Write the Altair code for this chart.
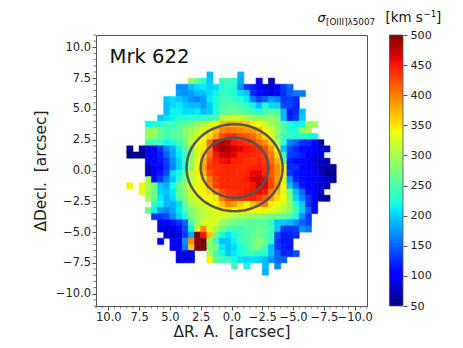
import altair as alt
import numpy as np
import pandas as pd

N = None
row_start = [13,10,8,8,6,6,6,5,3,3,3,3,0,0,3,3,3,3,0,2,3,4,3,4,5,5,6,5,7,8,8,17,22]
r00 = [190,N,N,N,N,185]
r01 = [290,260,230,195,N,240,240,235,180,N,N,100,N,80]
r02 = [170,170,190,205,210,200,205,225,235,225,170,130,120,100,90,80,100,130,150]
r03 = [175,170,175,190,190,205,215,235,230,225,205,195,125,110,100,90,105,125,145,160,160]
r04 = [195,205,195,185,170,165,175,210,225,240,240,235,225,210,160,135,150,175,165,130,135,125]
r05 = [190,205,210,195,190,190,175,195,220,245,250,250,245,235,215,190,225,205,200,135,135,120]
r06 = [190,215,215,205,205,210,190,195,225,255,260,265,260,250,240,225,240,255,250,190,115,125,190]
r07 = [195,205,215,225,225,235,230,230,240,245,300,315,320,315,300,290,290,280,285,275,190,120,130,195]
r08 = [215,225,230,240,240,250,260,270,290,300,320,335,370,380,375,370,365,350,340,320,295,280,250,225,215,215,290,295]
r09 = [290,295,260,245,250,255,285,290,310,330,350,370,395,405,400,395,385,385,370,345,320,290,250,225,225,285,300]
r10 = [290,285,260,240,250,260,280,300,325,335,355,385,425,440,440,425,420,410,385,355,330,280,240,230,225,230,225,215]
r11 = [245,240,235,215,225,240,270,315,335,345,405,470,485,470,450,442,438,428,410,390,360,300,225,165,150,125,125,100,60]
r12 = [60,N,60,85,100,130,165,185,215,260,280,325,350,400,465,488,488,470,460,450,445,440,422,388,330,190,140,125,110,110,100,90,75]
r13 = [55,55,55,95,100,120,150,180,210,240,280,330,360,405,448,465,472,458,445,445,440,436,430,400,355,235,135,130,120,105,95,80]
r14 = [100,100,115,135,170,200,235,285,335,375,425,442,452,458,445,445,440,436,442,435,410,375,265,120,110,110,100,80,75,70]
r15 = [65,100,100,130,165,200,225,280,340,385,432,438,442,445,442,440,440,445,448,442,420,390,345,125,125,100,95,90,70,65,60]
r16 = [70,100,115,140,205,220,265,315,345,375,425,438,442,442,442,442,446,458,462,445,420,390,345,130,115,105,105,100,75,55,55]
r17 = [300,110,130,165,195,230,270,305,330,355,400,432,442,442,442,442,450,465,475,458,425,385,330,170,120,110,105,100,85,80,60]
r18 = [345,N,340,300,270,195,185,220,260,295,325,335,350,392,428,442,442,442,442,442,450,475,465,428,390,340,190,150,115,105,95,85,70]
r19 = [335,300,265,200,195,210,260,285,320,335,345,355,392,422,435,438,442,446,450,458,448,400,370,330,270,190,155,110,100,80]
r20 = [295,260,210,185,205,250,280,320,320,335,335,350,402,432,440,440,442,446,435,415,385,355,340,280,200,165,130,95,70,55]
r21 = [235,215,190,185,205,260,300,315,325,330,345,365,395,385,360,340,365,385,400,345,340,320,290,225,195,130,95]
r22 = [265,215,175,165,180,210,250,280,300,310,320,335,345,350,340,350,350,345,340,345,330,320,305,285,245,200,150,100]
r23 = [130,130,140,170,200,225,275,295,310,320,325,320,310,300,295,290,285,280,275,275,270,260,250,220,170,130]
r24 = [100,100,115,125,150,240,290,320,325,325,290,280,270,265,260,260,255,255,230,195,195,190,170,150,135]
r25 = [90,85,90,110,140,215,320,390,330,300,270,250,240,240,250,255,265,260,245,195,130,130,135,170,160]
r26 = [80,80,90,130,180,500,450,365,270,220,205,220,240,245,260,265,250,235,140,115,120,125]
r27 = [90,N,100,95,170,395,500,500,290,240,190,195,215,240,245,265,280,265,230,130,115,115]
r28 = [100,100,160,365,500,500,280,270,210,190,205,220,240,265,275,240,190,130,120,115]
r29 = [90,85,85,N,N,295,245,220,195,210,220,235,240,230,225,190,150,120,125,140]
r30 = [90,90,85,N,N,340,255,240,240,220,205,200,205,200,190,170,150,150]
r31 = [245,N,220,N,N,190,N,165]
r32 = [185]
rows = [r00,r01,r02,r03,r04,r05,r06,r07,r08,r09,r10,r11,r12,r13,r14,r15,r16,r17,r18,r19,r20,r21,r22,r23,r24,r25,r26,r27,r28,r29,r30,r31,r32]

major_ticks = [10,7.5,5,2.5,0,-2.5,-5,-7.5,-10]
cbar_ticks = [50,100,150,200,250,300,350,400,450,500]
ellipse_center = [-0.25, 0.23]
ellipse_radii = [[3.9,3.53],[2.75,2.44]]
jet_pos = [0,0.11,0.125,0.34,0.35,0.375,0.64,0.65,0.66,0.89,0.91,1]
jet_col = ["#000080","#0000ff","#0000ff","#00dbff","#00e5ff","#14ffe2","#eeff08","#f6f500","#ffec00","#ff1300","#e80000","#800000"]
GRAY = "#555555"
W = 271

cells = []
for r, (s, vals) in enumerate(zip(row_start, rows)):
    for k, v in enumerate(vals):
        if v is None:
            continue
        c = s + k
        cells.append(dict(x0=8.5-0.5*c, x1=8.0-0.5*c, y0=8.0-0.5*r, y1=7.5-0.5*r, v=v))
cells = pd.DataFrame(cells)

cscale = alt.Scale(domain=[50+450*p for p in jet_pos], range=jet_col, clamp=True, interpolate="rgb")
xscale = alt.Scale(domain=[11,-11], nice=False, zero=False)
yscale = alt.Scale(domain=[-11,11], nice=False, zero=False)

def ax(title, orient, label_pad, title_pad):
    return alt.Axis(title=title, orient=orient, values=major_ticks, format=".1f", grid=False, domain=False,
                    tickColor=GRAY, tickSize=4, labelFontSize=11.5, labelColor="#222", labelOverlap=False,
                    labelFlush=False, labelPadding=label_pad, titleFont="DejaVu Sans", labelFont="DejaVu Sans",
                    titleFontSize=15.4, titleFontWeight="normal", titleColor="#222", titlePadding=title_pad)
xaxis = ax("ΔR.\u00a0A.\u00a0\u00a0[arcsec]", "bottom", 1.5, 1.5)

map_layer = alt.Chart(cells).mark_rect(strokeWidth=0.6).encode(
    x=alt.X("x0:Q", scale=xscale, axis=xaxis), x2="x1:Q",
    y=alt.Y("y0:Q", scale=yscale, axis=ax("ΔDecl.\u00a0\u00a0[arcsec]", "left", 1.5, 7)), y2="y1:Q",
    fill=alt.Fill("v:Q", scale=cscale, legend=None),
    stroke=alt.Stroke("v:Q", scale=cscale, legend=None),
)

ell = []
t = np.linspace(0, 2*np.pi, 121)
for e, (a, b) in enumerate(ellipse_radii):
    for i, tt in enumerate(t):
        ell.append(dict(e=e, i=i, x=ellipse_center[0]+a*np.cos(tt), y=ellipse_center[1]+b*np.sin(tt)))
ell_layer = alt.Chart(pd.DataFrame(ell)).mark_line(color=GRAY, strokeWidth=2.5).encode(
    x=alt.X("x:Q", scale=xscale, axis=xaxis), y=alt.Y("y:Q", scale=yscale, axis=None),
    detail="e:N", order="i:Q")

minor = [m for m in np.arange(-11, 11.01, 0.5) if m % 2.5 != 0]
mdf = pd.DataFrame({"m": minor})
minor_x = alt.Chart(mdf).mark_rule(color=GRAY, strokeWidth=0.8).encode(
    x=alt.X("m:Q", scale=xscale, axis=xaxis), y=alt.value(W), y2=alt.value(W+2.5))
minor_y = alt.Chart(mdf).mark_rule(color=GRAY, strokeWidth=0.8).encode(
    y=alt.Y("m:Q", scale=yscale, axis=None), x=alt.value(-2.5), x2=alt.value(0))

cb = pd.DataFrame({"v": np.arange(50, 500, 1.0)})
cb["v2"] = cb["v"] + 2
cb.loc[cb["v2"] > 500, "v2"] = 500
cb_x0, cb_x1 = 293.5, 307
cb_layer = alt.Chart(cb).mark_rect().encode(
    x=alt.value(cb_x0), x2=alt.value(cb_x1),
    y=alt.Y("v:Q", scale=alt.Scale(domain=[50,500], nice=False, zero=False),
            axis=alt.Axis(title=None, orient="right", offset=cb_x1-W, values=cbar_ticks, grid=False, domain=False,
                          tickColor=GRAY, tickSize=4, labelFontSize=11.2, labelColor="#222", labelPadding=3,
                          labelFont="DejaVu Sans")),
    y2="v2:Q",
    fill=alt.Fill("v:Q", scale=cscale, legend=None),
)
cb_frame = alt.Chart(pd.DataFrame({"a":[0]})).mark_rect(fill=None, stroke=GRAY, strokeWidth=0.8).encode(
    x=alt.value(cb_x0), x2=alt.value(cb_x1), y=alt.value(0), y2=alt.value(W))

def txt(s, x, y, size, style="normal"):
    return alt.Chart(pd.DataFrame({"a":[0]})).mark_text(text=s, align="left", baseline="alphabetic", fontSize=size,
            font="DejaVu Sans", fontStyle=style, color="#111").encode(x=alt.value(x), y=alt.value(y))

OX, OY = 95.5, 35
labels = [
    txt("Mrk 622", 109-OX, 63-OY, 19.6),
    txt("σ", 317-OX, 22-OY, 13, "italic"),
    txt("[OIII]λ5007", 325.5-OX, 24.5-OY, 8.8),
    txt("[km s", 385-OX, 22-OY, 13.4),
    txt("−1", 423-OX, 17-OY, 8.8),
    txt("]", 435.5-OX, 22-OY, 13.4),
]

chart = alt.layer(map_layer, ell_layer, minor_x, minor_y, cb_layer, cb_frame, *labels).resolve_scale(y="independent").properties(
    width=W, height=W, padding={"left": 25, "top": 2, "right": 0, "bottom": 0},
    background="white"
).configure_view(stroke=GRAY, strokeWidth=1)

chart.save("out.html", embed_options={"renderer": "svg", "actions": False})
